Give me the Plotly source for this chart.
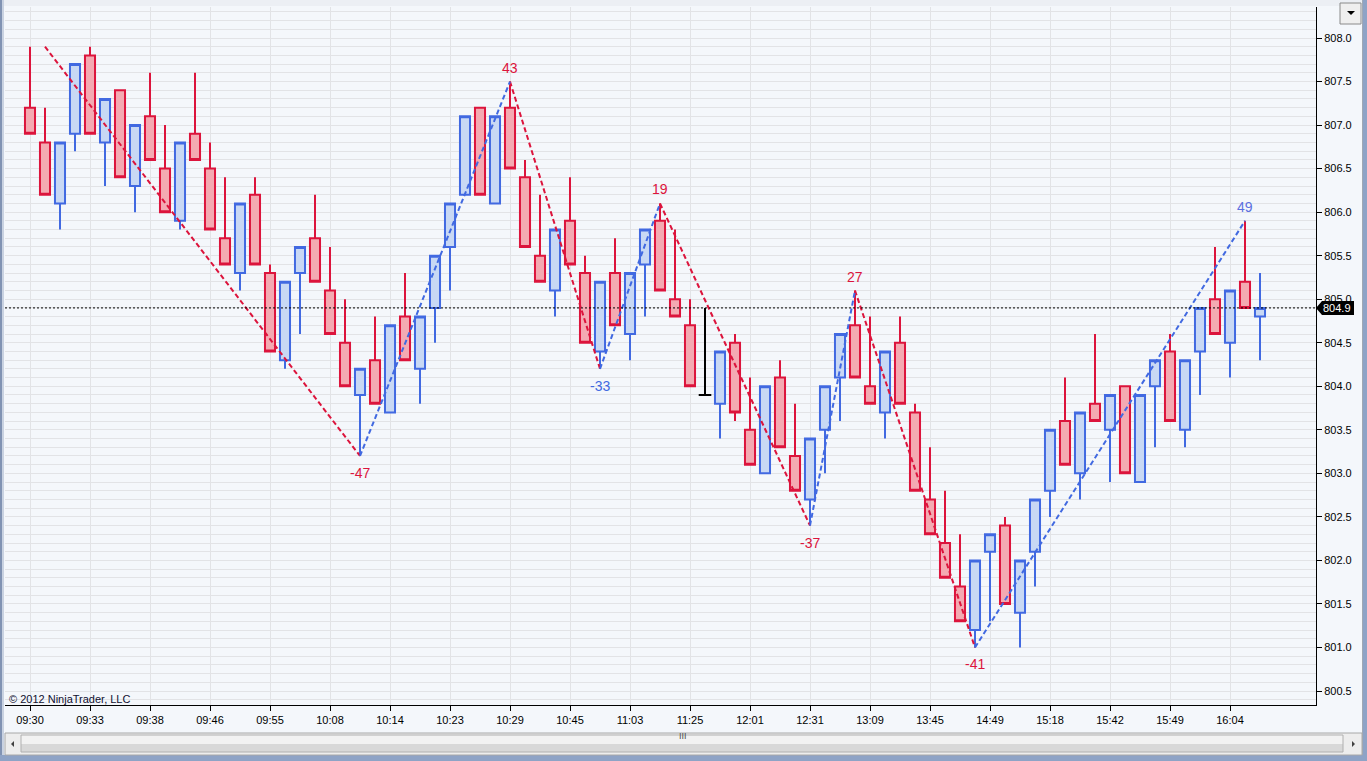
import plotly.graph_objects as go

# ---------------- data (range bars, 1.0 point each) ----------------
bar_open = [807.2, 806.8, 806.1, 806.9, 807.8, 806.8, 807.4, 806.3, 807.1, 806.5,
            805.9, 806.9, 806.5, 805.7, 805.3, 806.2, 805.3, 804.3, 805.3, 805.7,
            805.1, 804.5, 803.9, 804.3, 803.7, 804.8, 804.2, 804.9, 805.6, 806.2,
            807.2, 806.1, 807.2, 806.4, 805.5, 805.1, 805.9, 805.3, 804.4, 805.3,
            804.6, 805.4, 805.9, 805.0, 804.7, 803.9, 803.8, 804.5, 803.5, 803.0,
            804.1, 803.2, 802.7, 803.5, 804.1, 804.7, 804.0, 803.7, 804.5, 803.7,
            802.7, 802.2, 801.7, 801.2, 802.1, 802.4, 801.4, 802.1, 802.8, 803.6,
            803.0, 803.8, 803.5, 804.0, 802.9, 804.0, 804.4, 803.5, 804.4, 805.0,
            804.5, 805.2, 804.8]
bar_high = [807.9, 807.2, 806.8, 807.7, 807.9, 807.3, 807.4, 807.0, 807.6, 807.0,
            806.8, 807.6, 806.8, 806.4, 806.1, 806.4, 805.4, 805.2, 805.6, 806.2,
            805.6, 805.0, 804.2, 804.8, 804.7, 805.3, 804.8, 805.5, 806.1, 807.1,
            807.2, 807.1, 807.5, 806.6, 806.2, 805.8, 806.4, 805.5, 805.2, 805.7,
            805.3, 805.8, 806.1, 805.8, 805.0, 804.9, 804.4, 804.6, 804.1, 804.0,
            804.3, 803.8, 803.4, 804.0, 804.6, 805.1, 804.8, 804.4, 804.8, 803.8,
            803.3, 802.8, 802.3, 802.0, 802.3, 802.5, 802.0, 802.7, 803.5, 804.1,
            803.7, 804.6, 803.9, 804.0, 803.9, 804.3, 804.6, 804.3, 804.9, 805.6,
            805.1, 805.9, 805.3]
bar_low = [806.9, 806.2, 805.8, 806.7, 806.9, 806.3, 806.4, 806.0, 806.6, 806.0,
           805.8, 806.6, 805.8, 805.4, 805.1, 805.4, 804.4, 804.2, 804.6, 805.2,
           804.6, 804.0, 803.2, 803.8, 803.7, 804.3, 803.8, 804.5, 805.1, 806.2,
           806.2, 806.1, 806.5, 805.6, 805.2, 804.8, 805.4, 804.5, 804.2, 804.7,
           804.3, 804.8, 805.1, 804.8, 804.0, 803.9, 803.4, 803.6, 803.1, 803.0,
           803.3, 802.8, 802.4, 803.0, 803.6, 804.1, 803.8, 803.4, 803.8, 802.8,
           802.3, 801.8, 801.3, 801.0, 801.3, 801.5, 801.0, 801.7, 802.5, 803.1,
           802.7, 803.6, 802.9, 803.0, 802.9, 803.3, 803.6, 803.3, 803.9, 804.6,
           804.1, 804.9, 804.3]
bar_close = [806.9, 806.2, 806.8, 807.7, 806.9, 807.3, 806.4, 807.0, 806.6, 806.0,
             806.8, 806.6, 805.8, 805.4, 806.1, 805.4, 804.4, 805.2, 805.6, 805.2,
             804.6, 804.0, 804.2, 803.8, 804.7, 804.3, 804.8, 805.5, 806.1, 807.1,
             806.2, 807.1, 806.5, 805.6, 805.2, 805.8, 805.4, 804.5, 805.2, 804.7,
             805.3, 805.8, 805.1, 804.8, 804.0, 803.9, 804.4, 803.7, 803.1, 804.0,
             803.3, 802.8, 803.4, 804.0, 804.6, 804.1, 803.8, 804.4, 803.8, 802.8,
             802.3, 801.8, 801.3, 802.0, 802.3, 801.5, 802.0, 802.7, 803.5, 803.1,
             803.7, 803.6, 803.9, 803.0, 803.9, 804.3, 803.6, 804.3, 804.9, 804.6,
             805.1, 804.9, 804.9]

# x-axis labels (every 4th bar)
tick_bars = [0, 4, 8, 12, 16, 20, 24, 28, 32, 36, 40, 44, 48, 52, 56, 60, 64, 68, 72, 76, 80]
tick_labels = ["09:30", "09:33", "09:38", "09:46", "09:55", "10:08", "10:14", "10:23",
               "10:29", "10:45", "11:03", "11:25", "12:01", "12:31", "13:09", "13:45",
               "14:49", "15:18", "15:42", "15:49", "16:04"]

# zigzag pivots
zz_start_bar, zz_start_price = 1, 807.9
pivot_bars = [22, 32, 38, 42, 52, 55, 63, 81]
pivot_prices = [803.2, 807.5, 804.2, 806.1, 802.4, 805.1, 801.0, 805.9]
pivot_labels = ["-47", "43", "-33", "19", "-37", "27", "-41", "49"]
pivot_label_colors = ["#DC143C", "#DC143C", "#4169E1", "#DC143C",
                      "#DC143C", "#DC143C", "#DC143C", "#5B6FE0"]

last_price = bar_close[-1]

# ---------------- geometry ----------------
W, H = 1367, 761
L, R, T, B = 5, 1316, 7, 705
BAR0_PX, BAR_STEP = 30, 15
PRICE_TOP, PRICE_TOP_PX, PX_PER_PT = 808.0, 38, 87.07

x_range = [(L - BAR0_PX) / BAR_STEP, (R - BAR0_PX) / BAR_STEP]
y_range = [PRICE_TOP - (B - PRICE_TOP_PX) / PX_PER_PT, PRICE_TOP + (PRICE_TOP_PX - T) / PX_PER_PT]


def pxx(x):
    return (x - L) / (R - L)


def pxy(y):
    return (B - y) / (B - T)


def price_to_py(p):
    return T + (y_range[1] - p) / (y_range[1] - y_range[0]) * (B - T)


BLUE = "#4169E1"
RED = "#DC143C"
BG = "#F4F7FB"
GRID = "#E2E3E6"

fig = go.Figure()

# regular candles (doji drawn separately in black)
idx = [i for i in range(len(bar_open)) if bar_open[i] != bar_close[i]]
doji = [i for i in range(len(bar_open)) if bar_open[i] == bar_close[i]]

fig.add_trace(go.Candlestick(
    x=idx,
    open=[bar_open[i] for i in idx],
    high=[bar_high[i] for i in idx],
    low=[bar_low[i] for i in idx],
    close=[bar_close[i] for i in idx],
    increasing=dict(line=dict(color=BLUE, width=2), fillcolor="#C8D8F4"),
    decreasing=dict(line=dict(color=RED, width=2), fillcolor="#F4AAB2"),
    whiskerwidth=0,
    hoverinfo="skip",
    showlegend=False,
))

dx, dy = [], []
for i in doji:
    dx += [i, i, None, i - 0.42, i + 0.42, None]
    dy += [bar_high[i], bar_low[i], None, bar_close[i], bar_close[i], None]
fig.add_trace(go.Scatter(x=dx, y=dy, mode="lines", line=dict(color="black", width=2),
                         hoverinfo="skip", showlegend=False))

# zigzag segments
all_b = [zz_start_bar] + pivot_bars
all_p = [zz_start_price] + pivot_prices
down_x, down_y, up_x, up_y = [], [], [], []
for k in range(len(all_b) - 1):
    if all_p[k + 1] < all_p[k]:
        down_x += [all_b[k], all_b[k + 1], None]
        down_y += [all_p[k], all_p[k + 1], None]
    else:
        up_x += [all_b[k], all_b[k + 1], None]
        up_y += [all_p[k], all_p[k + 1], None]
fig.add_trace(go.Scatter(x=down_x, y=down_y, mode="lines",
                         line=dict(color=RED, width=2, dash="5px,3px"),
                         hoverinfo="skip", showlegend=False))
fig.add_trace(go.Scatter(x=up_x, y=up_y, mode="lines",
                         line=dict(color=BLUE, width=2, dash="5px,3px"),
                         hoverinfo="skip", showlegend=False))

annotations = []
for k, (b, p, t, c) in enumerate(zip(pivot_bars, pivot_prices, pivot_labels, pivot_label_colors)):
    is_low = all_p[k + 1] < all_p[k]
    annotations.append(dict(x=b, y=p, xref="x", yref="y", text=t, showarrow=False,
                            font=dict(family="Liberation Sans, Arial", size=14, color=c),
                            yanchor="middle", yshift=-17 if is_low else 14))

# copyright
annotations.append(dict(x=pxx(7), y=pxy(699), xref="paper", yref="paper",
                        text="© 2012 NinjaTrader, LLC", showarrow=False,
                        xanchor="left", yanchor="middle",
                        font=dict(family="Liberation Sans, Arial", size=11, color="#101030")))

# last price label
lp_y = price_to_py(last_price)
annotations.append(dict(x=pxx(1337), y=last_price, xref="paper", yref="y",
                        text=f"{last_price:.1f}", showarrow=False, xanchor="center",
                        yanchor="middle",
                        font=dict(family="Liberation Sans, Arial", size=11, color="white")))

# scrollbar grip
annotations.append(dict(x=pxx(683), y=pxy(743), xref="paper", yref="paper", text="III",
                        showarrow=False,
                        font=dict(family="Liberation Sans", size=9, color="#505050")))

shapes = []


def prect(x0, y0, x1, y1, fill, line=None, lw=0):
    shapes.append(dict(type="rect", xref="paper", yref="paper",
                       x0=pxx(x0), x1=pxx(x1), y0=pxy(y1), y1=pxy(y0),
                       fillcolor=fill, line=dict(width=lw, color=line or fill), layer="above"))


def ppath(pts, fill):
    d = "M " + " L ".join(f"{pxx(a)},{pxy(b)}" for a, b in pts) + " Z"
    shapes.append(dict(type="path", xref="paper", yref="paper", path=d,
                       fillcolor=fill, line=dict(width=0), layer="above"))


# last price dotted line
shapes.append(dict(type="line", xref="paper", yref="y", x0=0, x1=1, y0=last_price, y1=last_price,
                   line=dict(color="black", width=1, dash="2px,2px"), layer="above"))
# last price marker box
ppath([(1316, lp_y), (1322, lp_y - 7), (1354, lp_y - 7), (1354, lp_y + 7), (1322, lp_y + 7)],
      "black")

# window frame
prect(0, 0, W, 6, "#ECEFF4")
prect(0, 0, 2, H, "#8193B3")
prect(2, 0, 4, H, "#C9D2E1")
prect(1363, 0, W, H, "#8EA3C6")
prect(1362, 0, 1363, 756, "#A0A8B4")
prect(0, 755, W, H, "#8EA3C6")
# scrollbar
prect(5, 733, 1362, 755, "#EDEDED", "#A8A8A8", 1)
prect(21, 735, 1343, 744, "#F2F2F2")
prect(21, 744, 1343, 752, "#D8D8D8")
shapes.append(dict(type="rect", xref="paper", yref="paper", x0=pxx(21), x1=pxx(1343),
                   y0=pxy(752), y1=pxy(735), fillcolor="rgba(0,0,0,0)",
                   line=dict(width=1, color="#B0B0B0"), layer="above"))
ppath([(11, 744), (14, 741), (14, 747)], "#404040")
ppath([(1355, 744), (1352, 741), (1352, 747)], "#404040")
# dropdown button
shapes.append(dict(type="rect", xref="paper", yref="paper", x0=pxx(1340), x1=pxx(1361),
                   y0=pxy(24), y1=pxy(3), fillcolor="#EFEFEF",
                   line=dict(width=1, color="#8A8A8A"), layer="above"))
ppath([(1347, 11), (1355, 11), (1351, 15)], "black")

fig.update_layout(
    width=W, height=H, autosize=False,
    margin=dict(l=L, r=W - R, t=T, b=H - B, pad=0),
    paper_bgcolor=BG, plot_bgcolor=BG,
    boxgap=0.33, boxgroupgap=0,
    showlegend=False,
    hovermode=False,
    annotations=annotations,
    shapes=shapes,
    xaxis=dict(
        range=x_range, rangeslider=dict(visible=False), fixedrange=True,
        tickmode="array", tickvals=tick_bars, ticktext=tick_labels,
        showgrid=True, gridcolor=GRID, gridwidth=1, zeroline=False,
        showline=True, linecolor="black", linewidth=1,
        ticks="outside", ticklen=5, tickcolor="black", tickwidth=1,
        tickfont=dict(family="Liberation Sans, Arial", size=11, color="black"),
    ),
    yaxis=dict(
        range=y_range, side="right", fixedrange=True,
        tickmode="linear", tick0=800.0, dtick=0.5, tickformat=".1f",
        showgrid=True, gridcolor=GRID, gridwidth=1, zeroline=False,
        showline=True, linecolor="black", linewidth=1,
        ticks="outside", ticklen=5, tickcolor="black", tickwidth=1,
        tickfont=dict(family="Liberation Sans, Arial", size=11, color="black"),
        minor=dict(dtick=0.1, tick0=800.0, showgrid=True, gridcolor=GRID, gridwidth=1, ticks=""),
    ),
)

fig.write_html("out.html", config={"displayModeBar": False},
               post_script="document.body.style.margin='0';document.body.style.overflow='hidden';")
